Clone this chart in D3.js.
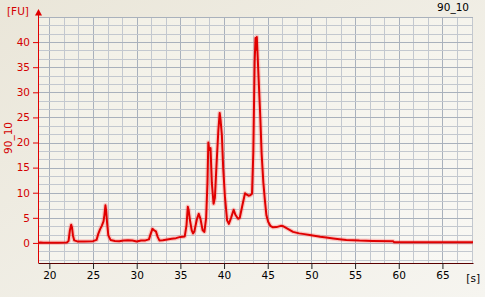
<!DOCTYPE html>
<html><head><meta charset="utf-8">
<script src="https://cdn.jsdelivr.net/npm/d3@7"></script>
<style>html,body{margin:0;padding:0;background:#ECE9DC;overflow:hidden}svg{display:block}</style>
</head><body><svg id="c" width="485" height="297"></svg>
<script>
const times = [18.7,19.0,19.3,20,21,22.0,22.2,22.35,22.5,22.6,22.7,22.85,23.2,24,25.0,25.4,25.6,25.8,26.0,26.2,26.3,26.42,26.5,26.6,26.75,27.0,27.5,28.0,28.5,29.0,29.5,30.0,30.5,31.0,31.4,31.6,31.8,32.0,32.2,32.4,32.6,33.0,33.5,34.0,34.5,35.0,35.5,35.7,35.85,35.95,36.1,36.3,36.45,36.6,36.9,37.1,37.3,37.55,37.75,37.95,38.1,38.2,38.3,38.45,38.6,38.8,38.95,39.15,39.35,39.5,39.6,39.75,39.9,40.1,40.35,40.55,40.8,41.1,41.3,41.6,41.8,42.1,42.4,42.6,42.8,43.0,43.2,43.35,43.5,43.6,43.68,43.75,43.85,44.0,44.15,44.3,44.5,44.67,44.85,45.05,45.3,45.6,46.0,46.5,46.8,47.2,47.9,48.6,49.2,49.8,50.5,51.0,51.7,52.5,53.2,54.0,55.5,57.0,59.35,59.45,62,65,68.5];
const fluor = [0.05,0.1,0.05,0.05,0.05,0.1,0.4,2.5,3.6,3.0,1.5,0.5,0.3,0.3,0.35,0.6,1.8,2.7,3.4,4.3,5.5,7.5,6.5,4.2,1.5,0.6,0.4,0.35,0.5,0.55,0.5,0.3,0.5,0.5,0.7,1.8,2.8,2.5,2.3,1.2,0.5,0.55,0.7,0.85,0.95,1.2,1.3,3.5,7.2,6.5,4.5,2.5,1.9,2.3,4.8,5.8,4.8,2.5,2.2,5,12,20,18.5,18.9,12,7.8,9,16,22.5,25.9,24.5,21.5,15,9.2,4.5,3.8,5.0,6.6,5.6,4.8,5.0,7.5,9.9,9.6,9.4,9.5,9.8,18,36,40.8,38.5,41.0,37,31,25,17.8,12,8.6,5.5,4.2,3.4,3.1,3.15,3.4,3.3,2.9,2.2,1.9,1.75,1.6,1.4,1.25,1.1,0.9,0.75,0.6,0.47,0.4,0.35,0.15,0.15,0.15,0.15];
const xTicks = [20,25,30,35,40,45,50,55,60,65];
const yTicks = [0,5,10,15,20,25,30,35,40];
const title = "90_10";

const svg = d3.select("#c");
const L=38, R=473, T=17, B=263;
const x = d3.scaleLinear().domain([18.7,68.5]).range([L,R]);
const y = d3.scaleLinear().domain([-4,45]).range([B,T]);

const defs = svg.append("defs");
const g1 = defs.append("linearGradient").attr("id","bg").attr("x1","0").attr("y1","0").attr("x2","1").attr("y2","1");
g1.append("stop").attr("offset","0").attr("stop-color","#EAE6D9");
g1.append("stop").attr("offset","1").attr("stop-color","#F6F5F0");
const g2 = defs.append("linearGradient").attr("id","pbg").attr("x1","0").attr("y1","0").attr("x2","1").attr("y2","1");
g2.append("stop").attr("offset","0").attr("stop-color","#F2F0E6");
g2.append("stop").attr("offset","1").attr("stop-color","#F9F8F4");
svg.append("rect").attr("width",485).attr("height",297).attr("fill","url(#bg)");
svg.append("rect").attr("x",L).attr("y",T).attr("width",R-L).attr("height",B-T).attr("fill","url(#pbg)");

// grid
const xg = d3.range(20, 68.6, 5/3);
const yg = d3.range(-10/3, 45.01, 5/3);
const isMaj = v => Math.abs(v/5 - Math.round(v/5)) < 1e-6;
svg.append("g").selectAll("line").data(xg).join("line")
  .attr("x1",d=>Math.round(x(d))+0.5).attr("x2",d=>Math.round(x(d))+0.5).attr("y1",T).attr("y2",B)
  .attr("stroke",d=>isMaj(d)?"#A9B1BC":"#C3C8CF").attr("stroke-width",1);
svg.append("g").selectAll("line").data(yg).join("line")
  .attr("y1",d=>Math.round(y(d))+0.5).attr("y2",d=>Math.round(y(d))+0.5).attr("x1",L).attr("x2",R)
  .attr("stroke",d=>isMaj(d)?"#A9B1BC":"#C3C8CF").attr("stroke-width",1);

// x axis
const xa = svg.append("g").attr("transform",`translate(0,${B})`)
  .call(d3.axisBottom(x).tickValues(xTicks).tickSize(6).tickSizeOuter(0).tickPadding(3));
xa.select(".domain").attr("stroke","#5a0000");
xa.selectAll(".tick line").attr("stroke","#222");
xa.selectAll("text").attr("fill","#000").attr("font-family","DejaVu Sans, sans-serif").attr("font-size","10.5px");
// y axis
const ya = svg.append("g").attr("transform",`translate(${L},0)`)
  .call(d3.axisLeft(y).tickValues(yTicks).tickSize(5).tickSizeOuter(0).tickPadding(3));
ya.select(".domain").attr("stroke","#e00000").attr("d",`M0.5,${B}V14`);
ya.selectAll(".tick line").attr("stroke","#e00000");
ya.selectAll("text").attr("fill","#d40000").attr("font-family","DejaVu Sans, sans-serif").attr("font-size","10.5px");
svg.append("path").attr("d",`M${L+0.5},9 L${L+4},15.5 L${L-3},15.5 Z`).attr("fill","#e00000");

// labels
svg.append("text").attr("x",7).attr("y",15).attr("fill","#d40000").attr("font-family","DejaVu Sans, sans-serif").attr("font-size","10.5px").text("[FU]");
svg.append("text").attr("x",480).attr("y",282).attr("text-anchor","end").attr("fill","#000").attr("font-family","DejaVu Sans, sans-serif").attr("font-size","10.5px").text("[s]");
svg.append("text").attr("x",469).attr("y",11).attr("text-anchor","end").attr("fill","#000").attr("font-family","DejaVu Sans, sans-serif").attr("font-size","10.5px").text(title);
svg.append("text").attr("transform","translate(12,138) rotate(-90)").attr("text-anchor","middle").attr("fill","#d40000").attr("font-family","DejaVu Sans, sans-serif").attr("font-size","10.5px").text(title);

// curve
const data = times.map((t,i)=>[t,fluor[i]]);
const line = d3.line().x(d=>x(d[0])).y(d=>y(d[1]));
svg.append("path").datum(data).attr("d",line).attr("fill","none").attr("stroke","#ff4040").attr("stroke-opacity",0.25).attr("stroke-width",4.5).attr("stroke-linejoin","round");
svg.append("path").datum(data).attr("d",line).attr("fill","none").attr("stroke","#e00000").attr("stroke-width",2).attr("stroke-linejoin","round");
</script></body></html>
